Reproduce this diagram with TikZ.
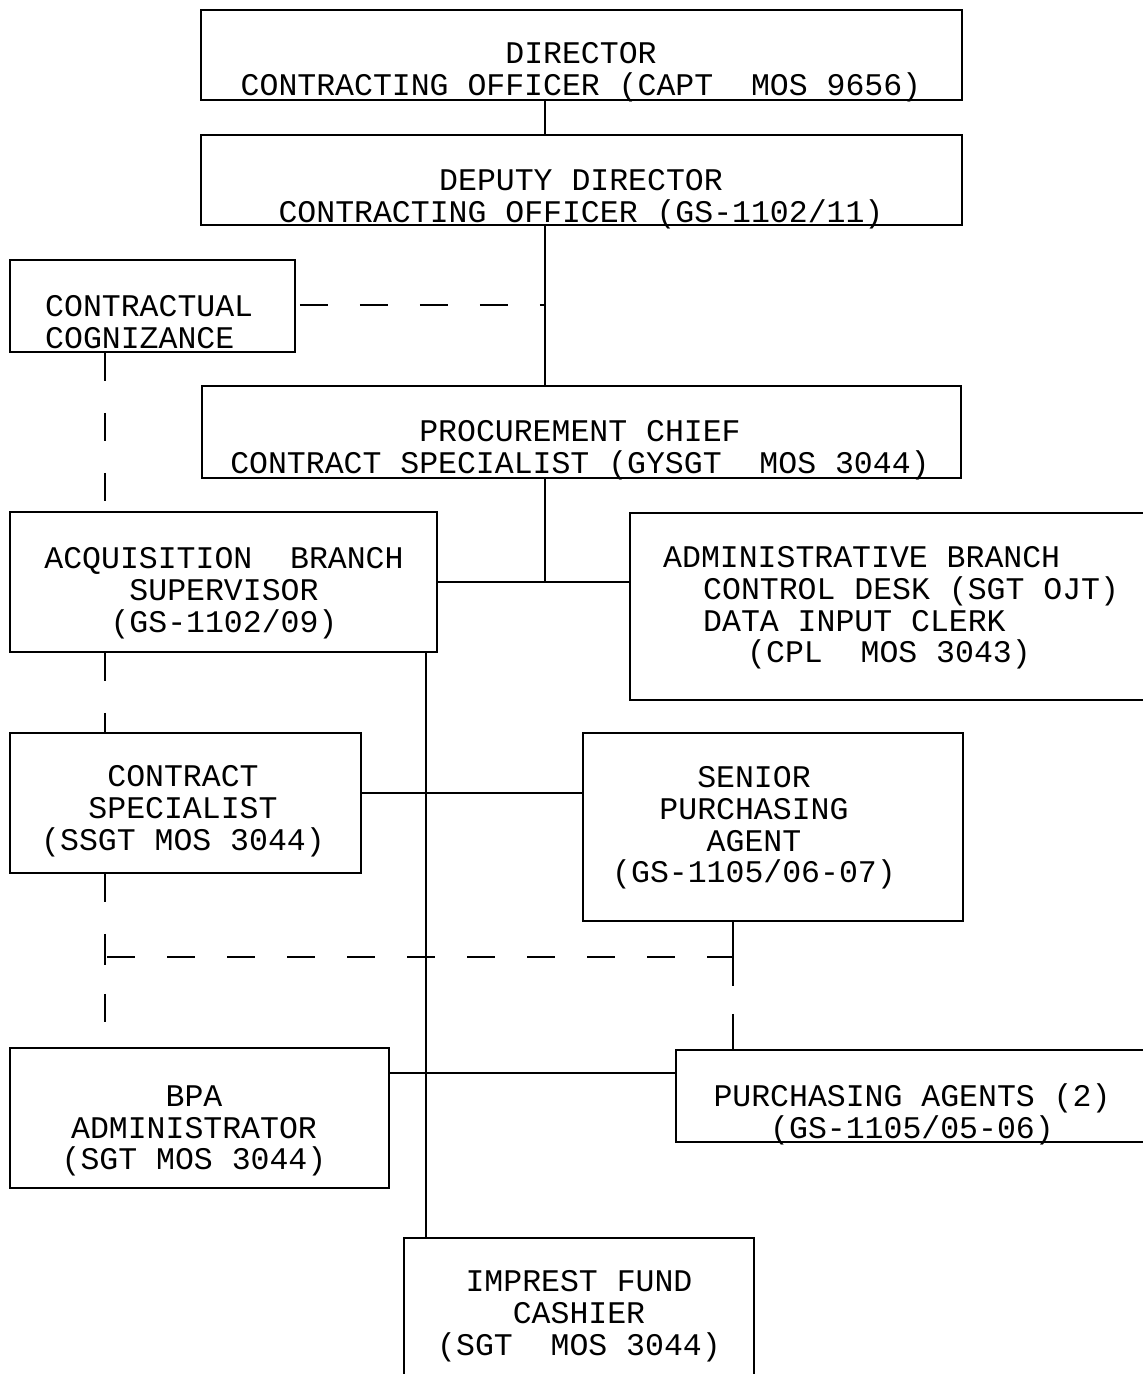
\documentclass[tikz,border=0pt]{standalone}
\usepackage{fontspec}
\setmonofont{Liberation Mono}
\begin{document}
\begin{tikzpicture}[x=1pt,y=-1pt,
  box/.style={draw, rectangle, line width=1.8pt, inner sep=0pt},
  txt/.style={inner sep=0pt, align=center, font=\ttfamily\fontsize{31.5}{31.8}\selectfont},
  txtl/.style={txt, align=left},
  link/.style={line width=1.4pt},
  dlink/.style={line width=1.5pt, dash pattern=on 28pt off 32pt},
  llink/.style={line width=1.5pt, dash pattern=on 64pt off 28pt}]
\useasboundingbox (0,0) rectangle (1143,1374);
\clip (0,0) rectangle (1143,1374);
% boxes
\node[box, minimum width=761pt, minimum height=90pt] (dir) at (581.5,55) {};
\node[box, minimum width=761pt, minimum height=90pt] (dep) at (581.5,180) {};
\node[box, minimum width=285pt, minimum height=92pt] (cog) at (152.5,306) {};
\node[box, minimum width=759pt, minimum height=92pt] (proc) at (581.5,432) {};
\node[box, minimum width=427pt, minimum height=140pt] (acq) at (223.5,582) {};
\node[box, minimum width=530pt, minimum height=187pt] (adm) at (895,606.5) {};
\node[box, minimum width=351pt, minimum height=140pt] (cs) at (185.5,803) {};
\node[box, minimum width=380pt, minimum height=188pt] (sen) at (773,827) {};
\node[box, minimum width=379pt, minimum height=140pt] (bpa) at (199.5,1118) {};
\node[box, minimum width=484pt, minimum height=92pt] (pa) at (918,1096) {};
\node[box, minimum width=350pt, minimum height=162pt] (imp) at (579,1319) {};
% texts
\node[txt] (dirT) at (581,72) {DIRECTOR\\CONTRACTING OFFICER (CAPT~ MOS 9656)};
\node[txt] (depT) at (581,199) {DEPUTY DIRECTOR\\CONTRACTING OFFICER (GS-1102/11)};
\node[txtl, anchor=west] (cogT) at (45,322) {CONTRACTUAL\\COGNIZANCE};
\node[txt] (procT) at (580,450) {PROCUREMENT CHIEF\\CONTRACT SPECIALIST (GYSGT~ MOS 3044)};
\node[txt] (acqT) at (224,593) {ACQUISITION~ BRANCH\\SUPERVISOR\\(GS-1102/09)};
\node[txtl, anchor=west] (admT) at (663,608) {ADMINISTRATIVE BRANCH\\\hspace*{40pt}CONTROL DESK (SGT OJT)\\\hspace*{40pt}DATA INPUT CLERK\\\hspace*{84pt}(CPL~ MOS 3043)};
\node[txt] (csT) at (183,811) {CONTRACT\\SPECIALIST\\(SSGT MOS 3044)};
\node[txt] (senT) at (754,828) {SENIOR\\PURCHASING\\AGENT\hspace*{19pt}\\(GS-1105/06-07)};
\node[txt] (bpaT) at (194,1131) {BPA\\ADMINISTRATOR\\(SGT MOS 3044)};
\node[txt] (paT) at (912,1114) {PURCHASING AGENTS (2)\\(GS-1105/05-06)};
\node[txt] (impT) at (579,1316) {IMPREST FUND\\CASHIER\\(SGT~ MOS 3044)};
% helper coordinates
\coordinate (spine) at (545,0);
\coordinate (mid) at (426,0);
\coordinate (lft) at (105,0);
\coordinate (rgt) at (733,0);
\coordinate (jA) at (545,582);
\coordinate (jB) at (105,957);
\coordinate (jC) at (733,957);
\coordinate (jD) at (545,305);
\coordinate (csE) at (361,793);
\coordinate (bpaE) at (389,1073);
% solid connectors
\draw[link] (dir.south -| spine) -- (dep.north -| spine);
\draw[link] (dep.south -| spine) -- (proc.north -| spine);
\draw[link] (proc.south -| spine) -- (jA);
\draw[link] (acq.east |- jA) -- (adm.west |- jA);
\draw[link] (acq.south -| mid) -- (imp.north -| mid);
\draw[link] (csE) -- (sen.west |- csE);
\draw[link] (bpaE) -- (pa.west |- bpaE);
% dashed connectors
\draw[dlink, dash phase=-4pt] (cog.east |- jD) -- (jD);
\draw[dlink] (cog.south -| lft) -- (acq.north -| lft);
\draw[dlink] (acq.south -| lft) -- (cs.north -| lft);
\draw[dlink] (cs.south -| lft) -- (bpa.north -| lft);
\draw[dlink, dash phase=-2pt] (jB) -- (jC);
\draw[link] (jB) ++(0,-8) -- ++(0,16);
\draw[llink] (sen.south -| rgt) -- (pa.north -| rgt);
\end{tikzpicture}
\end{document}
